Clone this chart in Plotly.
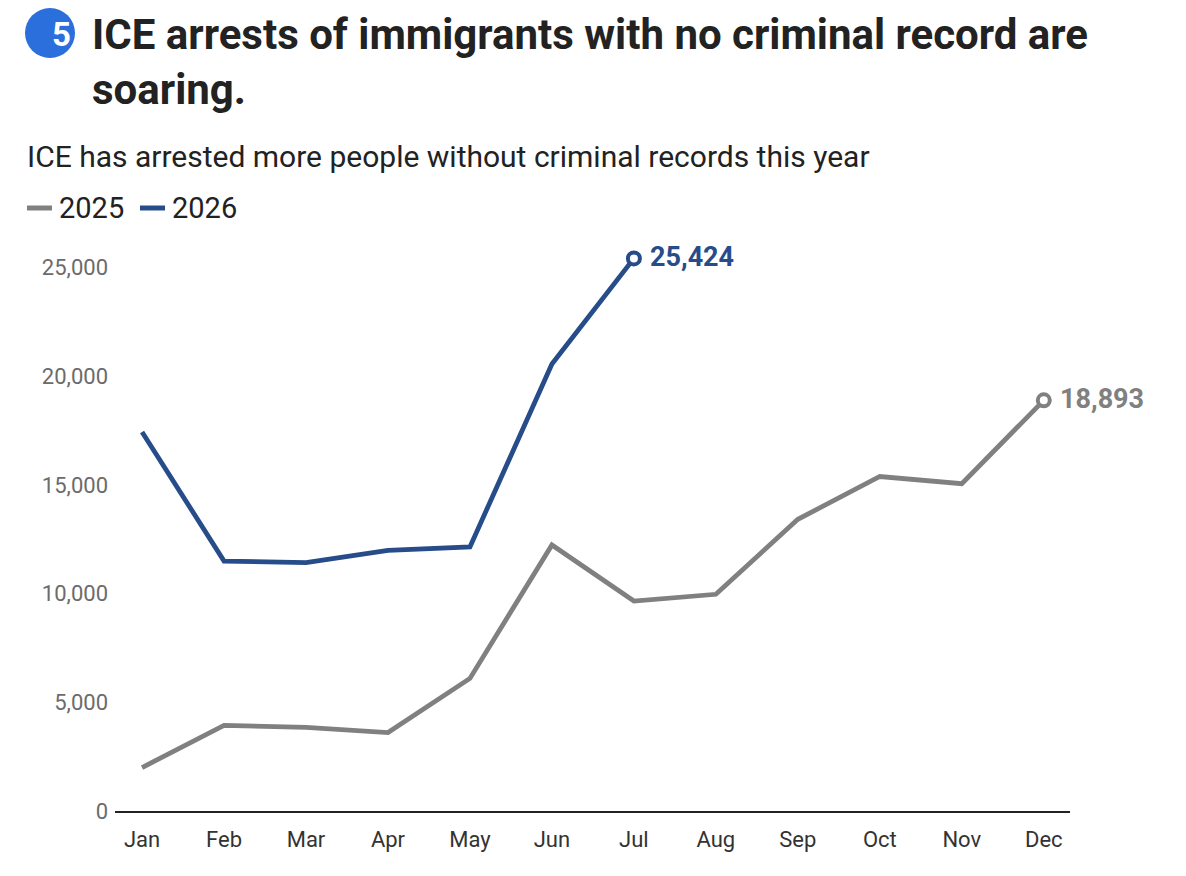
import plotly.graph_objects as go

months = ["Jan", "Feb", "Mar", "Apr", "May", "Jun", "Jul", "Aug", "Sep", "Oct", "Nov", "Dec"]
arrests_2025 = [2000, 3940, 3845, 3610, 6100, 12240, 9660, 9970, 13420, 15390, 15060, 18893]
arrests_2026 = [17440, 11500, 11430, 11990, 12150, 20560, 25424]
y_ticks = [0, 5000, 10000, 15000, 20000, 25000]

GRAY = "#808080"
BLUE = "#264c8a"
FONT = "Roboto"

# page has an 8px body margin, so positions below are screen pixels minus 8
OFF = 8
W, H = 1186 - OFF, 876 - OFF
L, T = 115 - OFF, 235 - OFF
R, B = W - (1070 - OFF), H - (811 - OFF)
pw, ph = W - L - R, H - T - B


def px(x):
    return (x - OFF - L) / pw


def py(y):
    return (H - B - (y - OFF)) / ph


fig = go.Figure()

fig.add_trace(go.Scatter(x=months, y=arrests_2025, mode="lines",
                         line=dict(color=GRAY, width=4.8), hoverinfo="skip"))
fig.add_trace(go.Scatter(x=months[:len(arrests_2026)], y=arrests_2026, mode="lines",
                         line=dict(color=BLUE, width=4.8), hoverinfo="skip"))

# end markers + labels
for vals, col in [(arrests_2025, GRAY), (arrests_2026, BLUE)]:
    last = len(vals) - 1
    fig.add_trace(go.Scatter(x=[months[last]], y=[vals[last]], mode="markers",
                             marker=dict(size=12, color="white", line=dict(color=col, width=4)),
                             hoverinfo="skip"))
    fig.add_annotation(x=months[last], y=vals[last], text=f"<b>{vals[last]:,}</b>",
                       showarrow=False, xanchor="left", yanchor="middle", xshift=14, yshift=1,
                       font=dict(family=FONT, size=27, color=col))

# title badge
fig.add_shape(type="circle", xref="paper", yref="paper",
              x0=px(25), x1=px(75), y0=py(58), y1=py(8),
              fillcolor="#2a6fdb", line=dict(width=0))
fig.add_annotation(xref="paper", yref="paper", x=px(50), y=py(34), yanchor="middle",
                   text="<b>5</b>", showarrow=False,
                   font=dict(family=FONT, size=33, color="white"))
fig.add_annotation(xref="paper", yref="paper", x=px(90), y=py(8), xanchor="left", yanchor="top",
                   align="left",
                   text="<b>ICE arrests of immigrants with no criminal record are<br>soaring.</b>",
                   showarrow=False, font=dict(family=FONT, size=42, color="#222222"))
fig.add_annotation(xref="paper", yref="paper", x=px(25), y=py(157), xanchor="left",
                   yanchor="middle",
                   text="ICE has arrested more people without criminal records this year",
                   showarrow=False, font=dict(family=FONT, size=30, color="#222222"))

# legend
for x0, label, col in [(27, "2025", GRAY), (140, "2026", BLUE)]:
    fig.add_shape(type="line", xref="paper", yref="paper",
                  x0=px(x0), x1=px(x0 + 25), y0=py(208), y1=py(208),
                  line=dict(color=col, width=5))
    fig.add_annotation(xref="paper", yref="paper", x=px(x0 + 30), y=py(208), xanchor="left",
                       yanchor="middle", text=label, showarrow=False,
                       font=dict(family=FONT, size=29, color="#222222"))

fig.update_layout(
    width=W, height=H,
    margin=dict(l=L, r=R, t=T, b=B),
    paper_bgcolor="white", plot_bgcolor="white",
    showlegend=False,
    xaxis=dict(range=[-0.33, 11.32], showgrid=False, showline=True, linecolor="#222222",
               linewidth=1.5, ticks="", ticklabelstandoff=8,
               tickfont=dict(family=FONT, size=22, color="#333333"), fixedrange=True),
    yaxis=dict(range=[0, 26500], showgrid=False, zeroline=False, tickvals=y_ticks,
               ticktext=[f"{v:,}" for v in y_ticks], ticks="", ticklabelstandoff=6,
               tickfont=dict(family=FONT, size=22, color="#6b6b6b"), fixedrange=True),
)

fig.write_html("out.html")
